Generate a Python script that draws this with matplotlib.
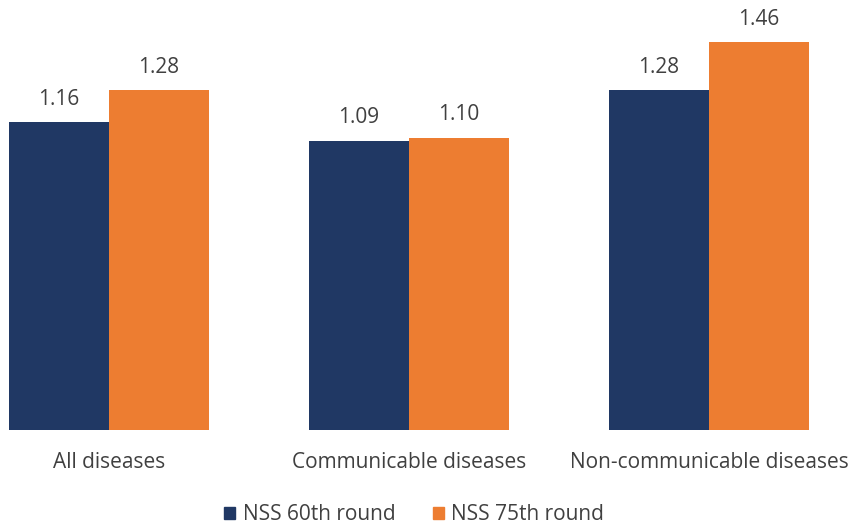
import matplotlib
matplotlib.use("Agg")
import matplotlib.pyplot as plt
from matplotlib.patches import Patch
import numpy as np

categories = ["All diseases", "Communicable diseases", "Non-communicable diseases"]
series_names = ["NSS 60th round", "NSS 75th round"]
nss60 = [1.16, 1.09, 1.28]
nss75 = [1.28, 1.10, 1.46]
labels60 = ["1.16", "1.09", "1.28"]
labels75 = ["1.28", "1.10", "1.46"]

C1 = "#203864"
C2 = "#ED7D31"
TXT = "#404040"
FONT = "Open Sans"

W, H = 852, 525
fig = plt.figure(figsize=(W / 100, H / 100), dpi=100)
base_px = 430
ax = fig.add_axes([0, (H - base_px) / H, 1, base_px / H])
px_per_unit = 265.5
ax.set_ylim(0, base_px / px_per_unit)
ax.set_xlim(-109 / 300, (W - 109) / 300)
ax.axis("off")

x = np.arange(len(categories))
bw = 1 / 3
b1 = ax.bar(x - bw / 2, nss60, bw, color=C1, label=series_names[0])
b2 = ax.bar(x + bw / 2, nss75, bw, color=C2, label=series_names[1])

for bars, labs in ((b1, labels60), (b2, labels75)):
    for r, t in zip(bars, labs):
        ax.annotate(t, (r.get_x() + r.get_width() / 2, r.get_height()),
                    xytext=(0, 23), textcoords="offset pixels",
                    ha="center", va="center", fontsize=15, color=TXT, family=FONT)

for xi, c in zip(x, categories):
    ax.annotate(c, (xi, 0), xytext=(0, -32), textcoords="offset pixels",
                ha="center", va="center", fontsize=15, color=TXT, family=FONT,
                annotation_clip=False)

handles = [Patch(color=C1), Patch(color=C2)]
fig.legend(handles, series_names, loc="center", bbox_to_anchor=(414 / W, 1 - 515 / H),
           ncol=2, frameon=False, handlelength=0.55, handleheight=0.55,
           handletextpad=0.35, columnspacing=1.8,
           prop={"family": FONT, "size": 15}, labelcolor=TXT)

fig.savefig("out.png", dpi=100)
